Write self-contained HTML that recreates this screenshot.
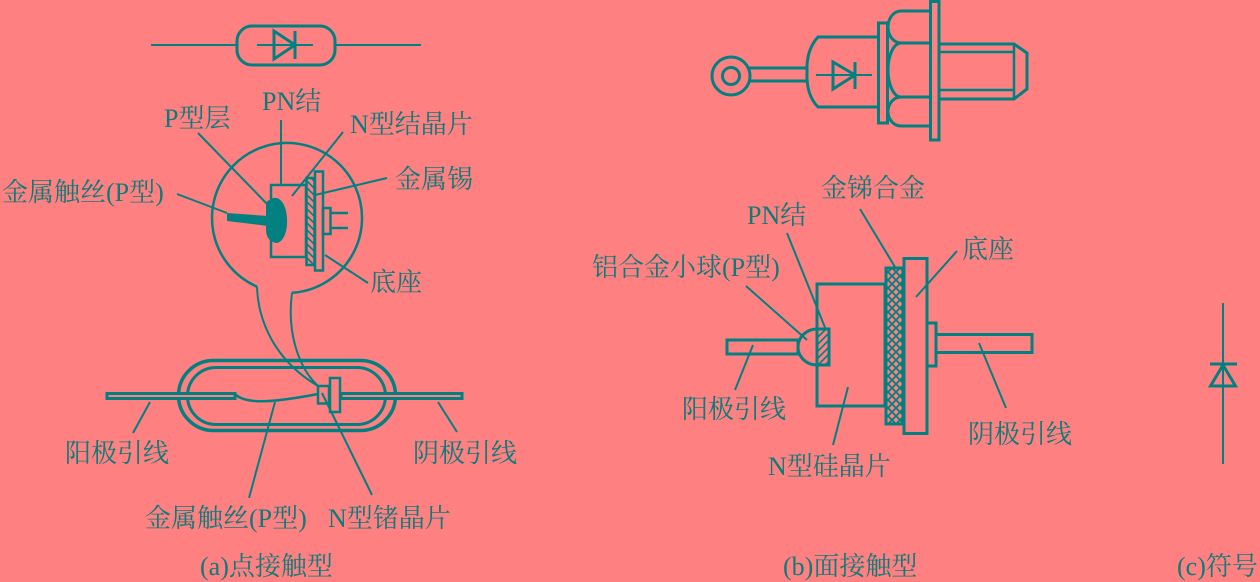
<!DOCTYPE html>
<html><head><meta charset="utf-8"><style>
html,body{margin:0;padding:0;background:#FF8080;}
svg{display:block;}
text{font-family:"Liberation Serif","Noto Serif CJK SC",serif;font-size:26px;fill:#0c7b7b;}
</style></head><body>
<svg width="1260" height="582" viewBox="0 0 1260 582" xmlns="http://www.w3.org/2000/svg">
<defs>
<pattern id="h1" width="7" height="7" patternUnits="userSpaceOnUse">
<path d="M0 0 L7 7 M-2 5 L2 9 M5 -2 L9 2" stroke="#008080" stroke-width="1.6"/>
</pattern>
<pattern id="h2" width="7" height="7" patternUnits="userSpaceOnUse">
<path d="M0 7 L7 0 M-2 2 L2 -2 M5 9 L9 5" stroke="#008080" stroke-width="1.6"/>
</pattern>
<pattern id="hx" width="8" height="8" patternUnits="userSpaceOnUse">
<path d="M0 0 L8 8 M0 8 L8 0" stroke="#008080" stroke-width="1.8"/>
</pattern>
</defs>
<rect width="1260" height="582" fill="#FF8080"/>
<g fill="none" stroke="#008080" stroke-linejoin="miter">
<!-- (a) top symbol -->
<line x1="151" y1="45" x2="237" y2="45" stroke-width="2"/>
<line x1="335" y1="45" x2="421" y2="45" stroke-width="2"/>
<rect x="237" y="26" width="98" height="39" rx="15" stroke-width="3"/>
<line x1="257" y1="45" x2="313" y2="45" stroke-width="2"/>
<polygon points="274,31 274,59 295,45" stroke-width="3"/>
<line x1="295" y1="31" x2="295" y2="59" stroke-width="3"/>

<!-- (a) magnified circle -->
<path d="M 292 292.8 A 75 75 0 1 0 257 286.7" stroke-width="2.5"/>
<path d="M 257 286.7 C 258 320, 274 360, 318 386" stroke-width="2"/>
<path d="M 292 292.8 C 287 330, 297 366, 318 386" stroke-width="2"/>

<rect x="271" y="185" width="35" height="72" stroke-width="2.5"/>
<rect x="306.5" y="178" width="8" height="87" fill="url(#h1)" stroke-width="2.5"/>
<rect x="315" y="171.5" width="8" height="99" stroke-width="2.5"/>
<rect x="323" y="208" width="7.5" height="26" stroke-width="2.5"/>
<line x1="330.5" y1="213" x2="348" y2="213" stroke-width="2.5"/>
<line x1="330.5" y1="228" x2="348" y2="228" stroke-width="2.5"/>
<path d="M 270 200 C 276 194, 286 200, 287 218 C 288 234, 282 243, 276 243 C 268 241, 266 236, 266 228 L 266 205 C 266 202, 268 200, 270 200 Z" fill="#008080" stroke="none"/>
<polygon points="227,213 268,216 268,226 227,221" fill="#008080" stroke="none"/>

<!-- (a) leaders -->
<g stroke-width="2">
<line x1="281" y1="120" x2="281" y2="185"/>
<line x1="198" y1="133" x2="270" y2="207"/>
<line x1="343" y1="132" x2="292" y2="196"/>
<line x1="387" y1="178" x2="315" y2="195"/>
<line x1="177" y1="194" x2="227" y2="213"/>
<line x1="325" y1="255" x2="368" y2="283"/>
</g>

<!-- (a) capsule -->
<rect x="178.5" y="360.5" width="217" height="70" rx="35" stroke-width="3.5"/>
<rect x="187.5" y="367.5" width="198" height="57" rx="28.5" stroke-width="3"/>
<rect x="107" y="393.5" width="128" height="5" fill="#FF8080" stroke-width="3"/>
<rect x="341" y="393.5" width="121" height="5" fill="#FF8080" stroke-width="3"/>
<path d="M 236 395 C 246 403, 266 404, 318 394" stroke-width="2.5"/>
<rect x="318" y="386" width="11" height="17.5" fill="#FF8080" stroke-width="2.5"/>
<rect x="330" y="378" width="10" height="34" fill="#FF8080" stroke-width="2.5"/>
<g stroke-width="2">
<line x1="150" y1="402" x2="133" y2="433"/>
<line x1="438" y1="402" x2="457" y2="432"/>
<line x1="275" y1="402" x2="249" y2="498"/>
<line x1="322" y1="393" x2="372" y2="495"/>
</g>

<!-- (b) top stud -->
<circle cx="731" cy="76" r="19" stroke-width="3"/>
<circle cx="731" cy="76" r="8.5" stroke-width="3"/>
<line x1="748" y1="68" x2="808" y2="68" stroke-width="3"/>
<line x1="748" y1="81" x2="808" y2="81" stroke-width="3"/>
<path d="M 878 37 L 818 37 Q 806 50 807 72 Q 806 95 818 107 L 878 107" stroke-width="3"/>
<line x1="816" y1="75" x2="872" y2="75" stroke-width="2"/>
<polygon points="833,62 833,89 855,75" stroke-width="3"/>
<line x1="855" y1="62" x2="855" y2="89" stroke-width="3"/>
<rect x="878.5" y="23" width="9" height="100" stroke-width="3"/>
<path d="M 930 11 L 901 11 A 13 16 0 0 0 901 43 L 930 43" stroke-width="3"/>
<path d="M 901 43 A 13 27 0 0 0 901 97 L 930 97" stroke-width="3"/>
<path d="M 901 97 A 13 14.5 0 0 0 901 126 L 930 126" stroke-width="3"/>
<rect x="930.5" y="1.5" width="8.5" height="138.5" stroke-width="3"/>
<path d="M 939 44 L 1014 44 L 1027 53 L 1027 89 L 1014 99 L 939 99" stroke-width="3"/>
<line x1="1014" y1="44" x2="1014" y2="99" stroke-width="2.5"/>
<line x1="939" y1="52" x2="1014" y2="52" stroke-width="2.5"/>
<line x1="939" y1="90" x2="1014" y2="90" stroke-width="2.5"/>

<!-- (b) lower -->
<rect x="727" y="340" width="71" height="14" stroke-width="3"/>
<rect x="817" y="284" width="68" height="122" stroke-width="3"/>
<path d="M 817 329 A 19 18 0 0 0 817 365" fill="#FF8080" stroke-width="3"/>
<rect x="817" y="329" width="12" height="36" fill="url(#h2)" stroke-width="3"/>
<line x1="817" y1="284" x2="817" y2="406" stroke-width="3"/>
<rect x="886" y="268" width="17" height="156" fill="url(#hx)" stroke-width="3"/>
<rect x="904" y="258.5" width="23" height="175" stroke-width="3"/>
<rect x="927" y="323" width="9" height="43" stroke-width="3"/>
<rect x="936" y="334.5" width="96" height="18" stroke-width="3"/>
<g stroke-width="2">
<line x1="860" y1="209" x2="895" y2="267"/>
<line x1="787" y1="233" x2="826" y2="330"/>
<line x1="746" y1="286" x2="807" y2="340"/>
<line x1="957" y1="251" x2="916" y2="297"/>
<line x1="753" y1="345" x2="735" y2="390"/>
<line x1="848" y1="387" x2="833" y2="445"/>
<line x1="979" y1="343" x2="1006" y2="408"/>
</g>

<!-- (c) symbol -->
<line x1="1223" y1="303" x2="1223" y2="464" stroke-width="2"/>
<line x1="1210" y1="364" x2="1237" y2="364" stroke-width="3"/>
<polygon points="1223,365 1210.5,386 1235.5,386" stroke-width="3"/>
</g>

<!-- texts (a) -->
<text x="164" y="127">P型层</text>
<text x="262" y="110">PN结</text>
<text x="350" y="133">N型结晶片</text>
<text x="395" y="188">金属锡</text>
<text x="2" y="201">金属触丝(P型)</text>
<text x="370" y="291">底座</text>
<text x="65" y="462">阳极引线</text>
<text x="413" y="462">阴极引线</text>
<text x="145" y="527">金属触丝(P型)</text>
<text x="328" y="527">N型锗晶片</text>
<text x="200" y="575">(a)点接触型</text>

<!-- texts (b) -->
<text x="821" y="197">金锑合金</text>
<text x="747" y="224">PN结</text>
<text x="592" y="276">铝合金小球(P型)</text>
<text x="962" y="258">底座</text>
<text x="682" y="418">阳极引线</text>
<text x="968" y="443">阴极引线</text>
<text x="768" y="475">N型硅晶片</text>
<text x="783" y="575">(b)面接触型</text>
<text x="1177" y="575">(c)符号</text>
</svg>
</body></html>
